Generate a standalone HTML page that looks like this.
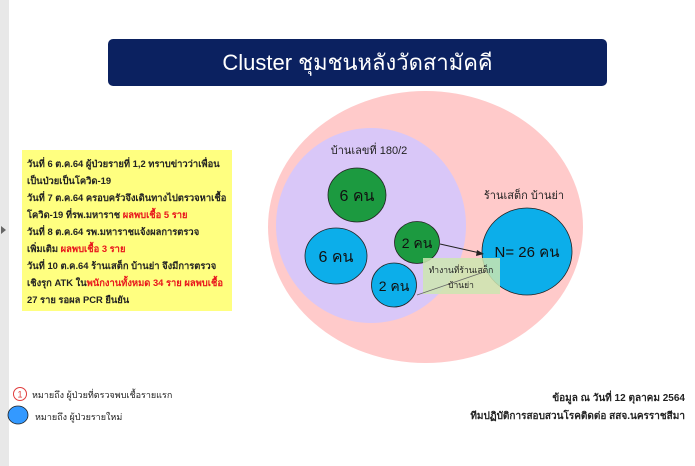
<!DOCTYPE html>
<html>
<head>
<meta charset="utf-8">
<style>
html,body{margin:0;padding:0;background:#fff;}
body{width:695px;height:466px;overflow:hidden;position:relative;font-family:"Liberation Sans","DejaVu Sans",sans-serif;}
.strip{position:absolute;left:0;top:0;width:9px;height:466px;background:#e8e8e8;}
.title{position:absolute;left:108px;top:39px;width:499px;height:47px;background:#0b2160;border-radius:5px;color:#fff;font-size:22px;line-height:47px;text-align:center;}
.yel{position:absolute;left:22px;top:150px;width:210px;height:161px;background:#ffff80;}
.yel div{position:absolute;left:5px;font-size:9.4px;font-weight:bold;color:#222;white-space:nowrap;line-height:12px;}
.r{color:#e8141b;}
.leg{position:absolute;font-size:9px;color:#222;white-space:nowrap;}
.rt{position:absolute;right:10px;font-size:10px;font-weight:bold;color:#222;white-space:nowrap;text-align:right;}
svg{position:absolute;left:0;top:0;}
</style>
</head>
<body>
<div class="strip"></div>
<svg width="695" height="466" viewBox="0 0 695 466">
  <polygon points="1,226 6,230 1,234" fill="#666"/>
  <ellipse cx="425.5" cy="227" rx="157.5" ry="136" fill="#ffcaca"/>
  <ellipse cx="371" cy="225.5" rx="95" ry="97.5" fill="#d9c7f8"/>
  <text x="369" y="154" font-size="11" text-anchor="middle" fill="#222" font-family="Liberation Sans, sans-serif">บ้านเลขที่ 180/2</text>
  <text x="524" y="199" font-size="11" text-anchor="middle" fill="#222" font-family="Liberation Sans, sans-serif">ร้านเสต็ก บ้านย่า</text>
  <ellipse cx="357" cy="195" rx="29" ry="27" fill="#1c9a40" stroke="#222" stroke-width="0.8"/>
  <text x="357" y="201" font-size="16" text-anchor="middle" fill="#111" font-family="Liberation Sans, sans-serif">6 คน</text>
  <ellipse cx="336" cy="256" rx="31" ry="28" fill="#0caeea" stroke="#222" stroke-width="0.8"/>
  <text x="336" y="262" font-size="16" text-anchor="middle" fill="#111" font-family="Liberation Sans, sans-serif">6 คน</text>
  <ellipse cx="417" cy="242.5" rx="22.5" ry="21" fill="#1c9a40" stroke="#222" stroke-width="0.8"/>
  <text x="417" y="248" font-size="14" text-anchor="middle" fill="#111" font-family="Liberation Sans, sans-serif">2 คน</text>
  <ellipse cx="394" cy="285" rx="22.5" ry="22" fill="#0caeea" stroke="#222" stroke-width="0.8"/>
  <text x="394" y="291" font-size="14" text-anchor="middle" fill="#111" font-family="Liberation Sans, sans-serif">2 คน</text>
  <ellipse cx="527" cy="251.5" rx="45" ry="43.5" fill="#0caeea" stroke="#222" stroke-width="0.8"/>
  <text x="527" y="257" font-size="15" text-anchor="middle" fill="#111" font-family="Liberation Sans, sans-serif">N= 26 คน</text>
  <line x1="440" y1="244" x2="480" y2="253" stroke="#222" stroke-width="1"/>
  <polygon points="484,254 477,250 476,256" fill="#222"/>
  <rect x="423" y="258" width="77" height="36" fill="#cde6b0" opacity="0.85"/>
  <line x1="417" y1="295" x2="484" y2="272" stroke="#666" stroke-width="0.8"/>
  <text x="461" y="273" font-size="8.5" text-anchor="middle" fill="#222" font-family="Liberation Sans, sans-serif">ทำงานที่ร้านเสต็ก</text>
  <text x="461" y="288" font-size="8.5" text-anchor="middle" fill="#222" font-family="Liberation Sans, sans-serif">บ้านย่า</text>
  <circle cx="20" cy="394" r="6.5" fill="#fff" stroke="#e03c3c" stroke-width="1"/>
  <text x="20" y="397.5" font-size="9" text-anchor="middle" fill="#e03c3c" font-family="Liberation Sans, sans-serif">1</text>
  <ellipse cx="18" cy="415" rx="10" ry="9" fill="#3399ff" stroke="#222" stroke-width="0.8"/>
</svg>
<div class="title">Cluster ชุมชนหลังวัดสามัคคี</div>
<div class="yel">
  <div style="top:8px">วันที่ 6 ต.ค.64 ผู้ป่วยรายที่ 1,2 ทราบข่าวว่าเพื่อน</div>
  <div style="top:25px">เป็นป่วยเป็นโควิด-19</div>
  <div style="top:42px">วันที่ 7 ต.ค.64 ครอบครัวจึงเดินทางไปตรวจหาเชื้อ</div>
  <div style="top:59px">โควิด-19 ที่รพ.มหาราช <span class="r">ผลพบเชื้อ 5 ราย</span></div>
  <div style="top:76px">วันที่ 8 ต.ค.64 รพ.มหาราชแจ้งผลการตรวจ</div>
  <div style="top:93px">เพิ่มเติม <span class="r">ผลพบเชื้อ 3 ราย</span></div>
  <div style="top:110px">วันที่ 10 ต.ค.64 ร้านเสต็ก บ้านย่า จึงมีการตรวจ</div>
  <div style="top:127px">เชิงรุก ATK ใน<span class="r">พนักงานทั้งหมด 34 ราย ผลพบเชื้อ</span></div>
  <div style="top:144px" class="r">27 ราย รอผล PCR ยืนยัน</div>
</div>
<div class="leg" style="left:32px;top:388px;">หมายถึง ผู้ป่วยที่ตรวจพบเชื้อรายแรก</div>
<div class="leg" style="left:35px;top:410px;">หมายถึง ผู้ป่วยรายใหม่</div>
<div class="rt" style="top:391px;">ข้อมูล ณ วันที่ 12 ตุลาคม 2564</div>
<div class="rt" style="top:409px;">ทีมปฏิบัติการสอบสวนโรคติดต่อ สสจ.นครราชสีมา</div>
</body>
</html>
